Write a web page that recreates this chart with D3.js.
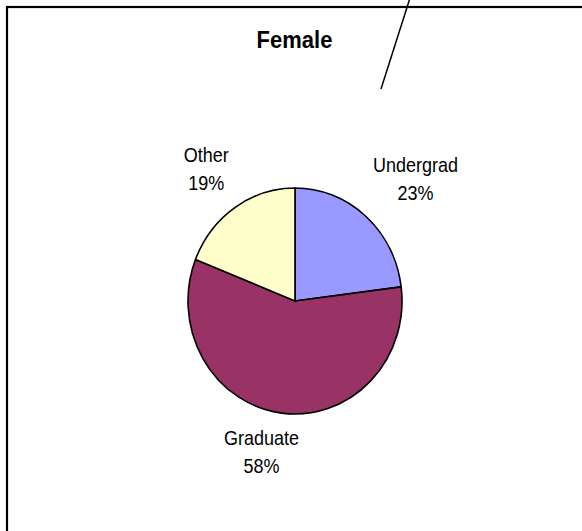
<!DOCTYPE html>
<html>
<head>
<meta charset="utf-8">
<script src="https://cdn.jsdelivr.net/npm/d3@7"></script>
<style>
  html, body { margin: 0; padding: 0; background: #fff; }
  svg { display: block; font-family: Arial, "Liberation Sans", sans-serif; }
</style>
</head>
<body>
<svg id="chart" width="582" height="531"></svg>
<script>
const title = "Female"
const categories = ["Undergrad", "Graduate", "Other"]
const shares = [23, 58, 19]
const colors = ["#9999FF", "#993366", "#FFFFCC"]

const width = 582, height = 531
const cx = 295, cy = 301
const radius = 107, yStretch = 1.056
const labelGap = 11, lineHeight = 28
const textStretch = 1.09

const svg = d3.select("#chart")

// chart area frame (right and bottom run off the picture)
svg.append("rect")
  .attr("x", 7).attr("y", 7)
  .attr("width", 700).attr("height", 700)
  .attr("fill", "none")
  .attr("stroke", "#000")
  .attr("stroke-width", 2.2)

// stray line that crosses the top of the frame
const strayLine = [[410, -2], [381, 89]]
svg.append("path")
  .attr("d", d3.line()(strayLine))
  .attr("stroke", "#000")
  .attr("stroke-width", 1.5)
  .attr("fill", "none")

svg.append("text")
  .attr("transform", `translate(294.5 48) scale(1 1.11)`)
  .attr("text-anchor", "middle")
  .style("font-size", "22px")
  .style("font-weight", "bold")
  .text(title)

const data = categories.map((c, i) => ({ label: c, value: shares[i], color: colors[i] }))

const createPie = d3.pie()
  .value(d => d.value)
  .sort(null)

const createArc = d3.arc()
  .innerRadius(0)
  .outerRadius(radius)

const arcs = createPie(data)

const pieGroup = svg.append("g")
  .attr("transform", `translate(${cx} ${cy}) scale(1 ${yStretch})`)

pieGroup.selectAll("path.arc")
  .data(arcs)
  .enter()
  .append("path")
  .attr("class", "arc")
  .attr("d", createArc)
  .attr("fill", d => d.data.color)
  .attr("stroke", "#000")
  .attr("stroke-width", 1.6)
  .attr("stroke-linejoin", "round")
  .attr("vector-effect", "non-scaling-stroke")

// labels: a two-line box pushed outside the slice at its mid angle
const clamp = v => Math.max(-1, Math.min(1, v))
const labels = svg.append("g")

arcs.forEach(d => {
  const a = (d.startAngle + d.endAngle) / 2
  const r = radius + labelGap
  const px = cx + r * Math.sin(a)
  const py = cy - r * Math.cos(a) * yStretch

  const g = labels.append("g")
  const lines = [d.data.label, `${d.data.value}%`]
  const texts = lines.map((t, i) => g.append("text")
    .attr("text-anchor", "middle")
    .attr("transform", `translate(0 ${20 + i * lineHeight}) scale(1 ${textStretch})`)
    .style("font-size", "18px")
    .style("fill", "#000")
    .text(t))
  const w = d3.max(texts, t => t.node().getComputedTextLength())
  const h = lineHeight * 2

  const boxCx = px + (w / 2) * clamp(Math.sin(a) * 4)
  const boxCy = py - (h / 2) * clamp(Math.cos(a) * 4)
  g.attr("transform", `translate(${boxCx} ${boxCy - h / 2})`)
})
</script>
</body>
</html>
